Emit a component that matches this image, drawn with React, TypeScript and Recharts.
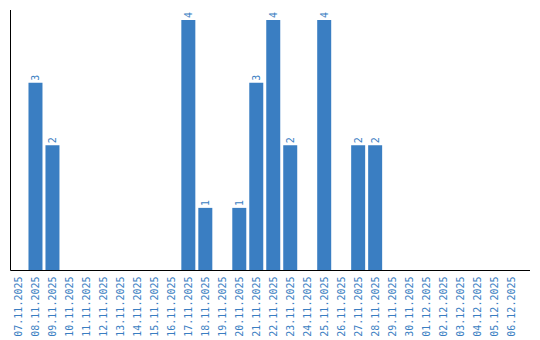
import React from 'react';
import { BarChart, Bar, XAxis, YAxis, LabelList } from 'recharts';

const dates = [
  '07.11.2025', '08.11.2025', '09.11.2025', '10.11.2025', '11.11.2025', '12.11.2025',
  '13.11.2025', '14.11.2025', '15.11.2025', '16.11.2025', '17.11.2025', '18.11.2025',
  '19.11.2025', '20.11.2025', '21.11.2025', '22.11.2025', '23.11.2025', '24.11.2025',
  '25.11.2025', '26.11.2025', '27.11.2025', '28.11.2025', '29.11.2025', '30.11.2025',
  '01.12.2025', '02.12.2025', '03.12.2025', '04.12.2025', '05.12.2025', '06.12.2025',
];
const counts = [0, 3, 2, 0, 0, 0, 0, 0, 0, 0, 4, 1, 0, 1, 3, 4, 2, 0, 4, 0, 2, 2, 0, 0, 0, 0, 0, 0, 0, 0];

const data = dates.map((d, i) => ({ date: d, count: counts[i] }));

const BLUE = '#3a7ec2';
const FONT = '"DejaVu Sans Mono", monospace';

const Tick = (props: any) => {
  const { x, y, payload } = props;
  return (
    <g transform={`translate(${x},${y + 6})`}>
      <text transform="rotate(-90)" textAnchor="end" dy="0.35em" fill={BLUE} fontSize={10} fontFamily={FONT}>
        {payload.value}
      </text>
    </g>
  );
};

const BarLabel = (props: any) => {
  const { x, y, width, value } = props;
  if (!value) return null;
  const cx = x + width / 2;
  const cy = y - 2;
  return (
    <g transform={`translate(${cx},${cy})`}>
      <text transform="rotate(-90)" textAnchor="start" dy="0.35em" fill={BLUE} fontSize={10} fontFamily={FONT}>
        {value}
      </text>
    </g>
  );
};

export default function App() {
  return (
    <div style={{ position: 'absolute', left: 0, top: 0 }}>
      <BarChart width={540} height={340} data={data} margin={{ top: 10, right: 10, bottom: 0, left: 0 }} barSize={14}>
        <XAxis
          dataKey="date"
          interval={0}
          height={69.5}
          tickLine={false}
          tickSize={0}
          tickMargin={0}
          axisLine={{ stroke: '#000' }}
          padding={{ left: 0, right: 10 }}
          tick={<Tick />}
        />
        <YAxis width={10.5} tick={false} tickLine={false} axisLine={{ stroke: '#000' }} domain={[0, 4.16]} type="number" />
        <Bar dataKey="count" fill={BLUE} isAnimationActive={false}>
          <LabelList dataKey="count" content={<BarLabel />} />
        </Bar>
      </BarChart>
    </div>
  );
}
